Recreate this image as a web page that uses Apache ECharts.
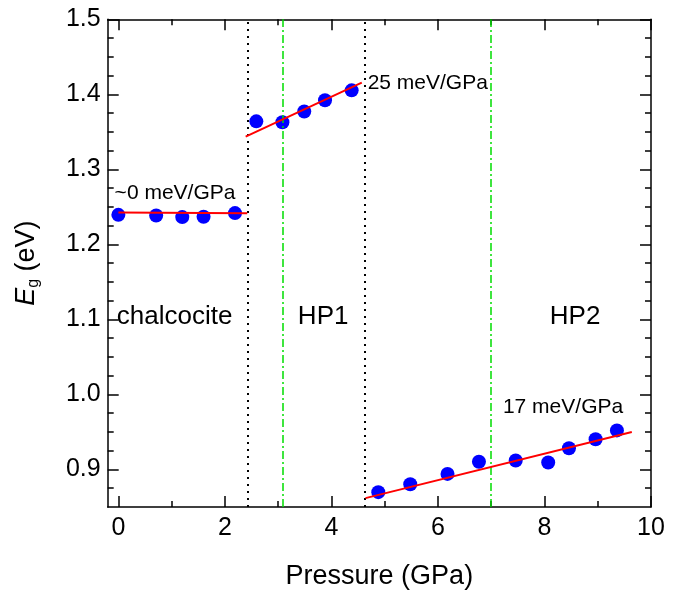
<!DOCTYPE html>
<html>
<head>
<meta charset="utf-8">
<script src="https://cdn.jsdelivr.net/npm/echarts@6/dist/echarts.min.js"></script>
<style>
html,body{margin:0;padding:0;background:#fff;}
#chart{width:679px;height:595px;}
</style>
</head>
<body>
<div id="chart"></div>
<script>
// ---- data ----
var chalcociteP = [0, 0.71, 1.2, 1.6, 2.19];
var chalcociteE = [1.2394, 1.2386, 1.2364, 1.2368, 1.2417];
var hp1P = [2.59, 3.08, 3.49, 3.88, 4.38];
var hp1E = [1.364, 1.3627, 1.3772, 1.3921, 1.4053];
var hp2P = [4.88, 5.48, 6.18, 6.77, 7.46, 8.07, 8.46, 8.96, 9.36];
var hp2E = [0.8698, 0.8803, 0.8941, 0.9103, 0.912, 0.9094, 0.9284, 0.9403, 0.9521];
var fitChalcociteP = [0, 2.42];
var fitChalcociteE = [1.2425, 1.2415];
var fitHp1P = [2.39, 4.57];
var fitHp1E = [1.3437, 1.4155];
var fitHp2P = [4.64, 9.64];
var fitHp2E = [0.8618, 0.9499];
var phaseBoundaries = [2.42, 4.63];
var greenMarkers = [3.08, 7.0];
var xMajorTicks = [0, 2, 4, 6, 8, 10];
var xMinorTicks = [0, 1, 2, 3, 4, 5, 6, 7, 8, 9, 10];
var yMajorTicks = [0.9, 1.0, 1.1, 1.2, 1.3, 1.4, 1.5];
var yMinorTicks = [0.875, 0.9, 0.925, 0.95, 0.975, 1.0, 1.025, 1.05, 1.075, 1.1, 1.125, 1.15, 1.175, 1.2, 1.225, 1.25, 1.275, 1.3, 1.325, 1.35, 1.375, 1.4, 1.425, 1.45, 1.475, 1.5];
var slopeLabels = ['~0 meV/GPa', '25 meV/GPa', '17 meV/GPa'];
var phaseLabels = ['chalcocite', 'HP1', 'HP2'];

function zip(a, b) { return a.map(function (v, i) { return [v, b[i]]; }); }

var FONT = '"Liberation Sans", Arial, Helvetica, sans-serif';
var axisColor = '#000';
var lineW = 1.5;

function xAx(pos, ticks, len, showLine, showLabel, extra) {
  var o = {
    type: 'value', min: -0.2, max: 10, position: pos, gridIndex: 0,
    axisLine: { show: showLine, onZero: false, lineStyle: { color: axisColor, width: lineW } },
    axisTick: { show: true, inside: true, length: len, customValues: ticks, lineStyle: { color: axisColor, width: lineW } },
    axisLabel: { show: showLabel, customValues: xMajorTicks, color: '#000', fontFamily: FONT, fontSize: 25, margin: 9 },
    splitLine: { show: false }
  };
  if (extra) for (var k in extra) o[k] = extra[k];
  return o;
}
function yAx(pos, ticks, len, showLine, showLabel, extra) {
  var o = {
    type: 'value', min: 0.85, max: 1.5, position: pos, gridIndex: 0,
    axisLine: { show: showLine, onZero: false, lineStyle: { color: axisColor, width: lineW } },
    axisTick: { show: true, inside: true, length: len, customValues: ticks, lineStyle: { color: axisColor, width: lineW } },
    axisLabel: { show: showLabel, customValues: yMajorTicks, color: '#000', fontFamily: FONT, fontSize: 25, margin: 7,
      formatter: function (v) { return v.toFixed(1); } },
    splitLine: { show: false }
  };
  if (extra) for (var k in extra) o[k] = extra[k];
  return o;
}

var chart = echarts.init(document.getElementById('chart'), null, { renderer: 'canvas' });

var vLines = [];
phaseBoundaries.forEach(function (x) {
  vLines.push({ xAxis: x, lineStyle: { color: '#000', width: 2, type: [2, 5], opacity: 1 } });
});
greenMarkers.forEach(function (x) {
  vLines.push({ xAxis: x, lineStyle: { color: '#00dd00', width: 1.5, type: [8, 3, 2, 3], opacity: 1 } });
});

function textSeries(items, size) {
  return {
    type: 'scatter', xAxisIndex: 0, yAxisIndex: 0, symbolSize: 0, silent: true, z: 20,
    itemStyle: { opacity: 1 },
    data: items.map(function (it) {
      return { value: [it[1], it[2]], label: { show: true, formatter: it[0], position: 'right', distance: 0,
        color: '#000', opacity: 1, fontFamily: FONT, fontSize: size } };
    })
  };
}

var dotStyle = { color: '#0000ff', opacity: 1 };

var option = {
  backgroundColor: '#fff',
  animation: false,
  grid: { left: 107.7, right: 28, top: 19.3, bottom: 83.3, containLabel: false },
  xAxis: [
    xAx('bottom', xMajorTicks, 11, true, true, {
      name: 'Pressure (GPa)', nameLocation: 'middle', nameGap: 56,
      nameTextStyle: { color: '#000', fontFamily: FONT, fontSize: 27 }
    }),
    xAx('bottom', xMinorTicks, 6, false, false),
    xAx('top', xMajorTicks, 11, true, false),
    xAx('top', xMinorTicks, 6, false, false)
  ],
  yAxis: [
    yAx('left', yMajorTicks, 11, true, true, {
      name: '{i|E}{s|g} (eV)', nameLocation: 'middle', nameGap: 66, nameRotate: 90,
      nameTextStyle: { color: '#000', fontFamily: FONT, fontSize: 27,
        rich: { i: { fontStyle: 'italic', fontSize: 27, fontFamily: FONT, color: '#000' },
                s: { fontSize: 16, fontFamily: FONT, color: '#000', verticalAlign: 'bottom', padding: [14, 0, 0, 0] } } }
    }),
    yAx('left', yMinorTicks, 6, false, false),
    yAx('right', yMajorTicks, 11, true, false),
    yAx('right', yMinorTicks, 6, false, false)
  ],
  series: [
    { type: 'scatter', xAxisIndex: 0, yAxisIndex: 0, symbol: 'circle', symbolSize: 14,
      itemStyle: dotStyle, data: zip(chalcociteP, chalcociteE), z: 3 },
    { type: 'scatter', xAxisIndex: 0, yAxisIndex: 0, symbol: 'circle', symbolSize: 14,
      itemStyle: dotStyle, data: zip(hp1P, hp1E), z: 3 },
    { type: 'scatter', xAxisIndex: 0, yAxisIndex: 0, symbol: 'circle', symbolSize: 14,
      itemStyle: dotStyle, data: zip(hp2P, hp2E), z: 3 },
    { type: 'line', xAxisIndex: 0, yAxisIndex: 0, showSymbol: false, symbol: 'none', z: 5,
      lineStyle: { color: '#ff0000', width: 2 }, data: zip(fitChalcociteP, fitChalcociteE) },
    { type: 'line', xAxisIndex: 0, yAxisIndex: 0, showSymbol: false, symbol: 'none', z: 5,
      lineStyle: { color: '#ff0000', width: 2 }, data: zip(fitHp1P, fitHp1E) },
    { type: 'line', xAxisIndex: 0, yAxisIndex: 0, showSymbol: false, symbol: 'none', z: 5,
      lineStyle: { color: '#ff0000', width: 2 }, data: zip(fitHp2P, fitHp2E),
      markLine: { silent: true, symbol: 'none', label: { show: false }, data: vLines } },
    textSeries([[slopeLabels[0], -0.07, 1.268], [slopeLabels[1], 4.68, 1.4146], [slopeLabels[2], 7.22, 0.9836]], 21),
    textSeries([[phaseLabels[0], -0.03, 1.103], [phaseLabels[1], 3.37, 1.103], [phaseLabels[2], 8.1, 1.103]], 26)
  ]
};
chart.setOption(option);
</script>
</body>
</html>
